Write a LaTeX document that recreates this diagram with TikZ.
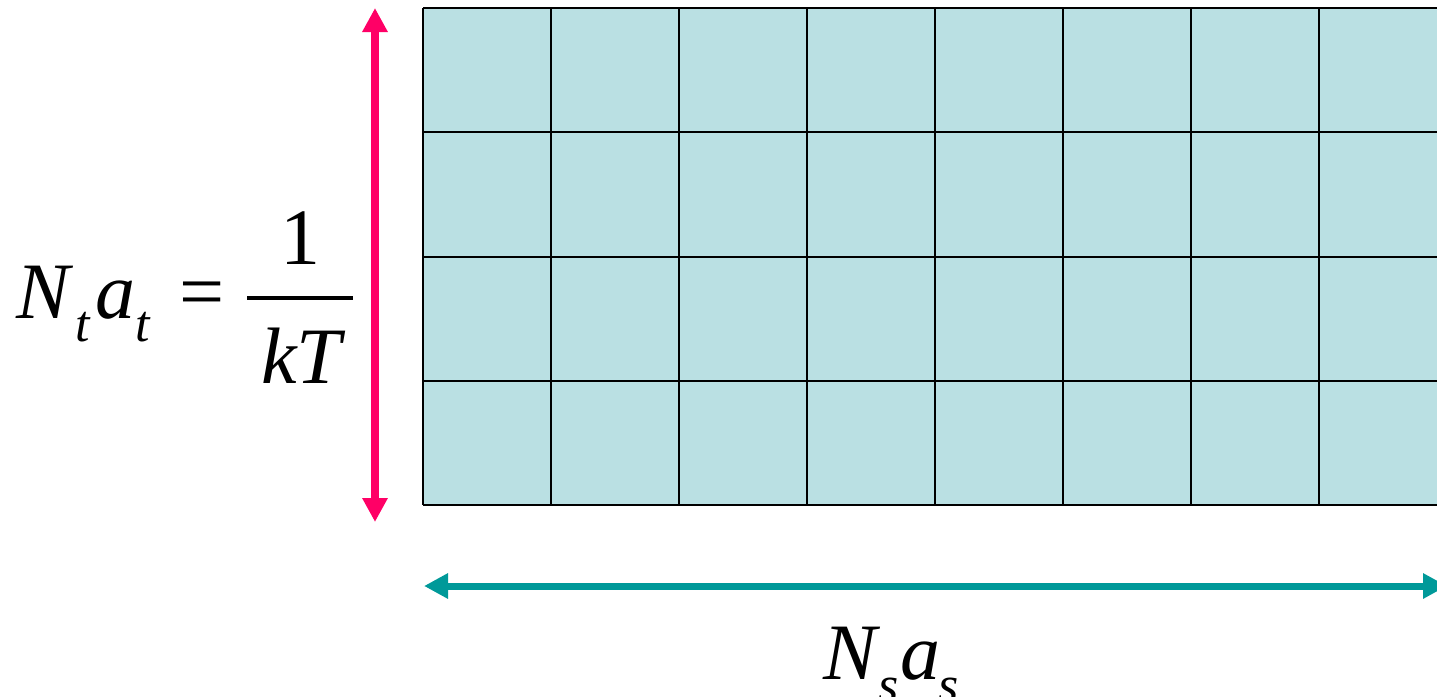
\documentclass[tikz,border=0pt]{standalone}
\usepackage{fontspec}
\setmainfont{Liberation Serif}
\usetikzlibrary{arrows.meta}
\definecolor{cellfill}{HTML}{BAE0E3}
\definecolor{pinkarrow}{HTML}{FF0066}
\definecolor{tealarrow}{HTML}{009999}
\tikzset{
  gridline/.style={line width=2pt, black},
  pinkarr/.style={pinkarrow, line width=8pt, {Triangle[length=24pt,width=24pt]}-{Triangle[length=24pt,width=24pt]}},
  tealarr/.style={tealarrow, line width=7pt, {Triangle[length=24pt,width=24pt]}-{Triangle[length=24pt,width=24pt]}},
  bigit/.style={inner sep=0pt, anchor=base west, font=\fontsize{80}{96}\selectfont\itshape},
  subit/.style={inner sep=0pt, anchor=base west, font=\fontsize{52}{62}\selectfont\itshape},
  bigrm/.style={inner sep=0pt, anchor=base, font=\fontsize{80}{96}\selectfont},
  fracbar/.style={line width=4pt, black}
}
\begin{document}
\begin{tikzpicture}[x=1pt,y=-1pt]
\useasboundingbox (0,0) rectangle (1437,696);
% grid
\fill[cellfill] (423,8) rectangle (1447,505);
\foreach \i in {0,...,8} {
  \draw[gridline] ({423+128*\i},8) -- ({423+128*\i},505);
}
\foreach \j in {0,...,4} {
  \draw[gridline] (423,{8+124.25*\j}) -- (1447,{8+124.25*\j});
}
% arrows
\coordinate (ptop) at (375,8);
\coordinate (pbot) at (375,522);
\coordinate (tleft) at (424,586);
\coordinate (tright) at (1447,586);
\draw[pinkarr] (ptop) -- (pbot);
\draw[tealarr] (tleft) -- (tright);
% left formula  N_t a_t = 1/(kT)
\node[bigit] (Nt) at (16.6,318) {N};
\node[subit] (t1) at (75,341) {t};
\node[bigit] (at) at (95.6,318) {a};
\node[subit] (t2) at (135,341) {t};
\node[bigit, font=\fontsize{80}{96}\selectfont] (eq) at (179.6,318) {=};
\coordinate (barl) at (247,298);
\coordinate (barr) at (353,298);
\draw[fracbar] (barl) -- (barr);
\node[bigrm] (one) at (300,264) {1};
\node[bigrm, font=\fontsize{80}{96}\selectfont\itshape] (kT) at (301,383) {kT};
% bottom label  N_s a_s
\node[bigit] (Ns) at (823.6,679) {N};
\node[subit] (s1) at (878,702) {s};
\node[bigit] (as) at (900.6,679) {a};
\node[subit] (s2) at (938,702) {s};
\end{tikzpicture}
\end{document}
